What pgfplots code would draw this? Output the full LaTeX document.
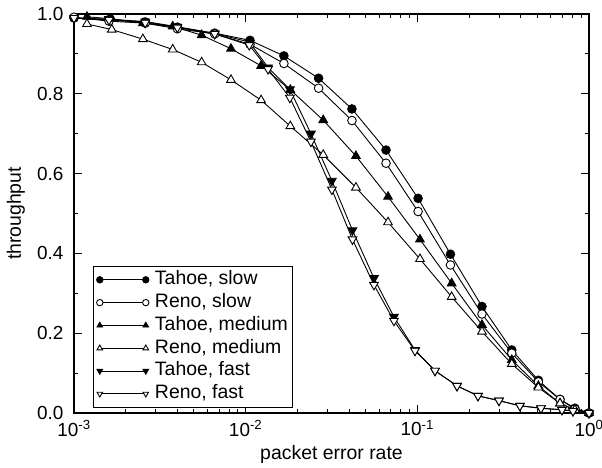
\documentclass[border=0pt]{standalone}
\usepackage{fontspec}
\setmainfont{Liberation Sans}
\usepackage{pgfplots}
\usepackage{pgfplotstable}
\pgfplotsset{compat=1.18}

\pgfplotstableread{
x y
0.001 0.990
0.0016 0.986
0.0026 0.980
0.0040 0.967
0.0066 0.952
0.0106 0.934
0.0167 0.895
0.0266 0.839
0.0416 0.762
0.0657 0.659
0.101 0.538
0.156 0.398
0.238 0.267
0.355 0.158
0.507 0.082
0.678 0.034
0.828 0.012
1.0 0.0
}\tahoeslow
\pgfplotstableread{
x y
0.001 0.992
0.0016 0.982
0.0026 0.977
0.0040 0.963
0.0066 0.950
0.0106 0.924
0.0167 0.876
0.0266 0.814
0.0416 0.733
0.0657 0.626
0.101 0.505
0.156 0.371
0.238 0.248
0.355 0.150
0.507 0.078
0.678 0.034
0.828 0.010
1.0 0.0
}\renoslow
\pgfplotstableread{
x y
0.00119 0.993
0.00166 0.988
0.00252 0.977
0.00376 0.969
0.00554 0.947
0.00821 0.913
0.0123 0.870
0.0182 0.810
0.0283 0.734
0.0439 0.644
0.0675 0.542
0.1036 0.435
0.1585 0.325
0.238 0.221
0.355 0.133
0.507 0.068
0.678 0.024
0.828 0.008
1.0 0.0
}\tahoemed
\pgfplotstableread{
x y
0.00119 0.975
0.00166 0.961
0.00252 0.937
0.00376 0.911
0.00554 0.879
0.00821 0.835
0.0123 0.784
0.0182 0.719
0.0283 0.647
0.0439 0.565
0.0675 0.478
0.1036 0.386
0.1585 0.291
0.238 0.204
0.355 0.123
0.507 0.064
0.678 0.024
0.828 0.008
1.0 0.0
}\renomed
\pgfplotstableread{
x y
0.001 0.990
0.0016 0.987
0.0026 0.981
0.0040 0.968
0.0066 0.951
0.0105 0.930
0.0135 0.866
0.0181 0.811
0.0240 0.700
0.0318 0.582
0.0419 0.458
0.0559 0.338
0.0731 0.241
0.0969 0.158
0.1267 0.106
0.1703 0.068
0.2256 0.043
0.299 0.031
0.396 0.018
0.525 0.012
0.696 0.008
0.807 0.005
1.0 0.0
}\tahoefast
\pgfplotstableread{
x y
0.001 0.990
0.0016 0.985
0.0026 0.978
0.0040 0.966
0.0066 0.950
0.0105 0.922
0.0135 0.862
0.0181 0.790
0.0240 0.680
0.0318 0.560
0.0419 0.435
0.0559 0.321
0.0731 0.231
0.0969 0.156
0.1267 0.106
0.1703 0.068
0.2256 0.043
0.299 0.031
0.396 0.018
0.525 0.012
0.696 0.008
0.807 0.005
1.0 0.0
}\renofast

\begin{document}
\fontsize{19}{23}\selectfont
\begin{tikzpicture}
\path[use as bounding box] (-74bp,-55bp) rectangle (528bp,413bp);
\begin{axis}[
  at={(0,0)}, anchor=south west,
  scale only axis, width=515bp, height=399bp,
  xmode=log, xmin=1e-3, xmax=1, ymin=0, ymax=1,
  xtick={0.001,0.01,0.1,1},
  xticklabels={10\textsuperscript{-3},10\textsuperscript{-2},10\textsuperscript{-1},10\textsuperscript{0}},
  minor xtick={0.002,0.003,0.004,0.005,0.006,0.007,0.008,0.009,
               0.02,0.03,0.04,0.05,0.06,0.07,0.08,0.09,
               0.2,0.3,0.4,0.5,0.6,0.7,0.8,0.9},
  ytick={0,0.2,0.4,0.6,0.8,1.0},
  minor ytick={0.1,0.3,0.5,0.7,0.9},
  yticklabel style={xshift=-4bp, /pgf/number format/.cd, fixed, fixed zerofill, precision=1, assume math mode=true},
  xticklabel style={yshift=-1bp},
  tick align=inside,
  major tick length=8bp, minor tick length=4bp,
  every tick/.style={line width=1bp, black},
  axis line style={line width=1.3bp},
  xlabel={packet error rate}, ylabel={throughput},
  xlabel style={at={(axis description cs:0.5,-0.105)}, anchor=center},
  ylabel style={at={(axis description cs:-0.113,0.5)}, anchor=center},
  label style={font=\fontsize{19.5}{23}\selectfont},
  tick label style={font=\fontsize{19}{23}\selectfont},
  legend style={at={(axis description cs:0.0369,0.013)}, anchor=south west,
    draw=black, line width=1.2bp, fill=white, inner xsep=3bp, inner ysep=2bp,
    column sep=4bp,
    font=\fontsize{19.5}{23}\selectfont,
    nodes={inner xsep=2bp, inner ysep=2.7bp, text height=13.6bp, text depth=3.8bp}},
  legend cell align=left,
  legend image code/.code={\draw[#1,mark size=3.2bp] plot coordinates {(0bp,0bp) (46bp,0bp)};},
]
\addplot[black, line width=0.9bp, mark=*, mark size=4.3bp, mark options={solid, draw=black, fill=black, line width=0.9bp}] table[x=x,y=y] {\tahoeslow};
\addlegendentry{Tahoe, slow}
\addplot[black, line width=0.9bp, mark=*, mark size=4.3bp, mark options={solid, draw=black, fill=white, line width=0.9bp}] table[x=x,y=y] {\renoslow};
\addlegendentry{Reno, slow}
\addplot[black, line width=0.9bp, mark=triangle*, mark size=5bp, mark options={solid, draw=black, fill=black, line width=0.9bp}] table[x=x,y=y] {\tahoemed};
\addlegendentry{Tahoe, medium}
\addplot[black, line width=0.9bp, mark=triangle*, mark size=5bp, mark options={solid, draw=black, fill=white, line width=0.9bp}] table[x=x,y=y] {\renomed};
\addlegendentry{Reno, medium}
\addplot[black, line width=0.9bp, mark=triangle*, mark size=5bp, mark options={solid, rotate=180, draw=black, fill=black, line width=0.9bp}] table[x=x,y=y] {\tahoefast};
\addlegendentry{Tahoe, fast}
\addplot[black, line width=0.9bp, mark=triangle*, mark size=5bp, mark options={solid, rotate=180, draw=black, fill=white, line width=0.9bp}] table[x=x,y=y] {\renofast};
\addlegendentry{Reno, fast}
\end{axis}
\end{tikzpicture}
\end{document}
